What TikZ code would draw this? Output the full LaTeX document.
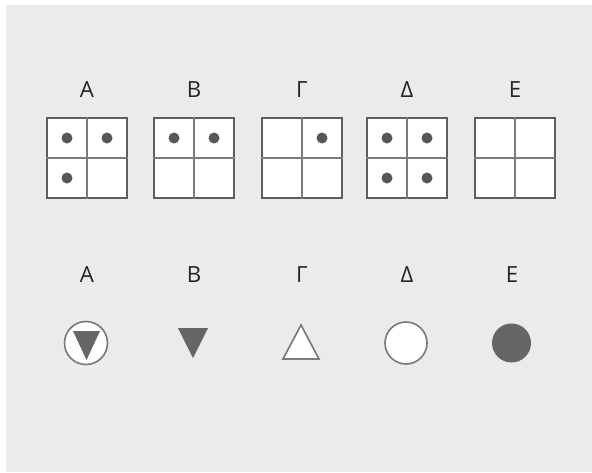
\documentclass[tikz,border=0pt]{standalone}
\usepackage{fontspec}
\setmainfont{Open Sans}
\usetikzlibrary{calc}
\definecolor{bggray}{HTML}{EBEBEB}
\definecolor{framegray}{HTML}{5E5E5E}
\definecolor{splitgray}{HTML}{7A7A7A}
\definecolor{dotgray}{HTML}{575757}
\definecolor{shapegray}{HTML}{666666}

\begin{document}
\begin{tikzpicture}[x=0.03cm, y=-0.03cm,
    lbl/.style={font=\fontsize{19}{22}\selectfont, text=black!85},
    gridbox/.style={draw=framegray, line width=1.2pt, fill=white, minimum size=2.4cm, inner sep=0pt},
    split/.style={draw=splitgray, line width=1.4pt},
    dot/.style={fill=dotgray},
    outline/.style={draw=splitgray, line width=1.4pt, fill=white}]
    \useasboundingbox (0,0) rectangle (592,472);
    \fill[white] (0,0) rectangle (592,472);
    \fill[bggray] (6,5) rectangle (592,472);

    % top row: four-cell grids
    \node[gridbox] (gA) at (87,158) {};
    \node[gridbox] (gB) at (194,158) {};
    \node[gridbox] (gG) at (302,158) {};
    \node[gridbox] (gD) at (407,158) {};
    \node[gridbox] (gE) at (515,158) {};
    \foreach \g in {gA,gB,gG,gD,gE} {
        \draw[split] (\g.north) -- (\g.south);
        \draw[split] (\g.west) -- (\g.east);
    }
    \node[lbl] (tA) at (87,90) {Α};
    \node[lbl] (tB) at (194,90) {Β};
    \node[lbl] (tG) at (302,90) {Γ};
    \node[lbl] (tD) at (407,90) {Δ};
    \node[lbl] (tE) at (515,90) {Ε};

    % dots in the cells
    \fill[dot] ($(gA.center)+(-20,-20)$) circle (5.5);
    \fill[dot] ($(gA.center)+(20,-20)$) circle (5.5);
    \fill[dot] ($(gA.center)+(-20,20)$) circle (5.5);
    \fill[dot] ($(gB.center)+(-20,-20)$) circle (5.5);
    \fill[dot] ($(gB.center)+(20,-20)$) circle (5.5);
    \fill[dot] ($(gG.center)+(20,-20)$) circle (5.5);
    \fill[dot] ($(gD.center)+(-20,-20)$) circle (5.5);
    \fill[dot] ($(gD.center)+(20,-20)$) circle (5.5);
    \fill[dot] ($(gD.center)+(-20,20)$) circle (5.5);
    \fill[dot] ($(gD.center)+(20,20)$) circle (5.5);

    % bottom row: figures
    \node[lbl] (sA) at (87,275) {Α};
    \node[lbl] (sB) at (194,275) {Β};
    \node[lbl] (sG) at (302,275) {Γ};
    \node[lbl] (sD) at (407,275) {Δ};
    \node[lbl] (sE) at (512,275) {Ε};

    \draw[outline] (86,343) circle (21.5);
    \fill[shapegray] (73,331) -- (100,331) -- (86.5,360) -- cycle;
    \fill[shapegray] (178,328) -- (208,328) -- (193,358) -- cycle;
    \draw[outline, line join=miter] (283,359) -- (319,359) -- (301,325) -- cycle;
    \draw[outline] (406,343) circle (21);
    \fill[shapegray] (511.5,343) circle (19.5);
\end{tikzpicture}
\end{document}
